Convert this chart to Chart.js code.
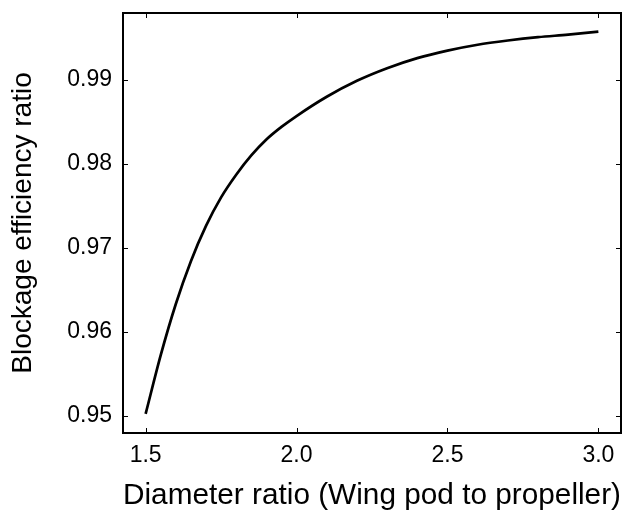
<!DOCTYPE html>
<html>
<head>
<meta charset="utf-8">
<script src="https://cdn.jsdelivr.net/npm/chart.js@4/dist/chart.umd.min.js"></script>
<style>
  html, body { margin: 0; padding: 0; background: #ffffff; }
  #wrap { width: 634px; height: 516px; position: relative; }
</style>
</head>
<body>
<div id="wrap"><canvas id="chart" width="634" height="516"></canvas></div>
<script>
// Diameter ratio (wing pod / propeller) and the resulting blockage efficiency ratio
const diameterRatio = [1.50, 1.55, 1.60, 1.65, 1.70, 1.75, 1.80, 1.85, 1.90, 1.95,
                       2.00, 2.10, 2.20, 2.30, 2.40, 2.50, 2.60, 2.70, 2.80, 2.90, 3.00];
const blockageEfficiency = [0.9502, 0.9572, 0.9633, 0.9684, 0.9726, 0.9760, 0.9787, 0.9810, 0.9829, 0.9844,
                            0.9857, 0.9880, 0.9899, 0.9914, 0.9926, 0.9935, 0.9942, 0.9947, 0.9951, 0.9954,
                            0.99575];

// Axis ticks
const xTickValues = [1.5, 2.0, 2.5, 3.0];
const yTickValues = [0.95, 0.96, 0.97, 0.98, 0.99];

const FONT = "'Liberation Sans', Arial, Helvetica, sans-serif";

// Closed frame with inward tick marks on all four sides
const frameTicks = {
  id: 'frameTicks',
  afterDraw(chart) {
    const { ctx, chartArea: a, scales: { x, y } } = chart;
    const len = 5;
    ctx.save();
    ctx.strokeStyle = '#000';
    ctx.lineWidth = 1;
    ctx.beginPath();
    x.ticks.forEach(t => {
      const px = Math.round(x.getPixelForValue(t.value)) + 0.5;
      ctx.moveTo(px, a.bottom); ctx.lineTo(px, a.bottom - len);
      ctx.moveTo(px, a.top); ctx.lineTo(px, a.top + len);
    });
    y.ticks.forEach(t => {
      const py = Math.round(y.getPixelForValue(t.value)) + 0.5;
      ctx.moveTo(a.left, py); ctx.lineTo(a.left + len, py);
      ctx.moveTo(a.right, py); ctx.lineTo(a.right - len, py);
    });
    ctx.stroke();
    ctx.lineWidth = 2;
    ctx.strokeRect(a.left, a.top, a.right - a.left, a.bottom - a.top);
    ctx.restore();
  }
};

new Chart(document.getElementById('chart'), {
  type: 'line',
  data: {
    datasets: [{
      data: diameterRatio.map((v, i) => ({ x: v, y: blockageEfficiency[i] })),
      borderColor: '#000000',
      borderWidth: 2.7,
      pointRadius: 0,
      fill: false,
      cubicInterpolationMode: 'monotone'
    }]
  },
  options: {
    responsive: false,
    animation: false,
    layout: { padding: { top: 13, right: 13, left: 0, bottom: 0 } },
    plugins: { legend: { display: false }, tooltip: { enabled: false } },
    scales: {
      x: {
        type: 'linear',
        min: 1.425,
        max: 3.075,
        afterBuildTicks: s => { s.ticks = xTickValues.map(v => ({ value: v })); },
        afterFit: s => { s.height = 83; s.paddingLeft = 0; s.paddingRight = 0; },
        grid: { display: false, drawTicks: false },
        border: { display: false },
        ticks: {
          color: '#000',
          font: { family: FONT, size: 23 },
          padding: 9,
          maxRotation: 0,
          autoSkip: false,
          callback: v => Number(v).toFixed(1)
        },
        title: {
          display: true,
          text: 'Diameter ratio (Wing pod to propeller)',
          color: '#000',
          font: { family: FONT, size: 30.3 },
          padding: { top: 0, bottom: 2 }
        }
      },
      y: {
        type: 'linear',
        min: 0.94792,
        max: 0.99798,
        afterBuildTicks: s => { s.ticks = yTickValues.map(v => ({ value: v })); },
        afterFit: s => { s.width = 123; s.paddingTop = 0; s.paddingBottom = 0; },
        grid: { display: false, drawTicks: false },
        border: { display: false },
        ticks: {
          color: '#000',
          font: { family: FONT, size: 23 },
          padding: 11,
          autoSkip: false,
          callback: v => Number(v).toFixed(2)
        },
        title: {
          display: true,
          text: 'Blockage efficiency ratio',
          color: '#000',
          font: { family: FONT, size: 28 },
          padding: { top: 6, bottom: 0 }
        }
      }
    }
  },
  plugins: [frameTicks]
});
</script>
</body>
</html>
